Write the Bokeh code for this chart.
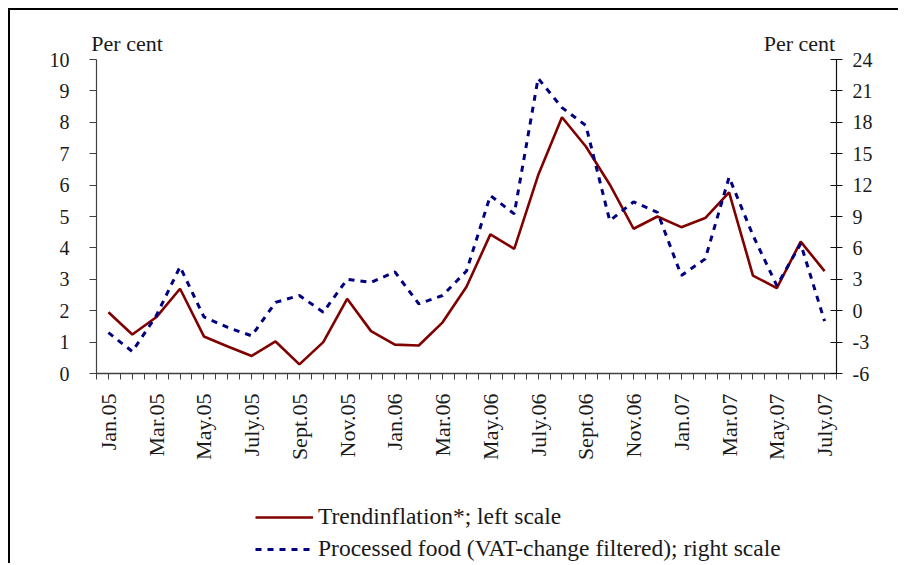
import math
from bokeh.plotting import figure
from bokeh.layouts import column
from bokeh.models import (Range1d, LinearAxis, FixedTicker, Legend, LegendItem)
from bokeh.embed import file_html
from bokeh.resources import INLINE

months = ["Jan.05", "Feb.05", "Mar.05", "Apr.05", "May.05", "June.05", "July.05", "Aug.05",
          "Sept.05", "Oct.05", "Nov.05", "Dec.05",
          "Jan.06", "Feb.06", "Mar.06", "Apr.06", "May.06", "June.06", "July.06", "Aug.06",
          "Sept.06", "Oct.06", "Nov.06", "Dec.06",
          "Jan.07", "Feb.07", "Mar.07", "Apr.07", "May.07", "June.07", "July.07"]

trend_inflation = [1.95, 1.24, 1.79, 2.70, 1.18, 0.86, 0.56, 1.02, 0.29, 1.00, 2.38, 1.35,
                   0.92, 0.89, 1.63, 2.76, 4.43, 3.97, 6.31, 8.16, 7.23, 6.02, 4.61, 5.00,
                   4.66, 4.95, 5.77, 3.12, 2.72, 4.20, 3.26]

processed_food = [-2.1, -3.9, -0.5, 4.2, -0.6, -1.6, -2.4, 0.8, 1.45, -0.14, 3.0, 2.7,
                  3.7, 0.66, 1.45, 3.8, 11.0, 9.25, 22.2, 19.4, 17.7, 8.6, 10.4, 9.4,
                  3.36, 4.95, 12.75, 7.2, 2.4, 6.4, -1.0]

left_ticks = list(range(0, 11))
right_ticks = list(range(-6, 25, 3))
unit_label = "Per cent"
series_labels = ["Trendinflation*; left scale",
                 "Processed food (VAT-change filtered); right scale"]

FONT = "Liberation Serif"
TXT = "#1a1a1a"
AX = "#404040"
RED = "#800000"
BLUE = "#000080"

xs = [i + 0.5 for i in range(len(months))]

p = figure(frame_width=740, frame_height=314, output_backend="svg", toolbar_location=None,
           x_range=Range1d(0, len(months)), y_range=Range1d(0, 10),
           min_border_left=86, min_border_right=62, min_border_top=49, min_border_bottom=100,
           x_axis_type=None, y_axis_type=None)
p.outline_line_color = None
p.grid.visible = False
p.background_fill_color = "white"
p.border_fill_color = "white"

p.extra_y_ranges = {"right": Range1d(-6, 24)}

# top axis carrying the "Per cent" unit captions
top_axis = LinearAxis(ticker=FixedTicker(ticks=[1.28, 29.45]),
                      major_label_overrides={1.28: unit_label, 29.45: unit_label})
top_axis.axis_line_color = None
top_axis.major_tick_line_color = None
top_axis.minor_tick_line_color = None
top_axis.major_label_standoff = -2
top_axis.major_label_text_font = FONT
top_axis.major_label_text_font_size = "22px"
top_axis.major_label_text_color = TXT
p.add_layout(top_axis, "above")

# x axis
xt = [i * 0.5 for i in range(2 * len(months) + 1)]
overrides = {}
for t in xt:
    overrides[t] = ""
for i, m in enumerate(months):
    if i % 2 == 0:
        overrides[i + 0.5] = m
xaxis = LinearAxis(ticker=FixedTicker(ticks=xt), major_label_overrides=overrides)
xaxis.major_label_orientation = math.pi / 2
xaxis.major_tick_out = 6
xaxis.major_tick_in = 0
xaxis.minor_tick_out = 0
xaxis.axis_line_color = AX
xaxis.axis_line_width = 1.5
xaxis.major_tick_line_color = AX
xaxis.major_label_text_font = FONT
xaxis.major_label_text_font_size = "22px"
xaxis.major_label_text_color = TXT
xaxis.major_label_standoff = 14
p.add_layout(xaxis, "below")

# left axis
yl = LinearAxis(ticker=FixedTicker(ticks=left_ticks))
yl.major_tick_out = 7
yl.major_tick_in = 0
yl.minor_tick_out = 0
yl.axis_line_color = AX
yl.axis_line_width = 1.2
yl.major_tick_line_color = AX
yl.major_label_text_font = FONT
yl.major_label_text_font_size = "20px"
yl.major_label_text_color = TXT
yl.major_label_standoff = 20
p.add_layout(yl, "left")

# right axis (plain hyphen for negative numbers, as in the original)
yr = LinearAxis(y_range_name="right", ticker=FixedTicker(ticks=right_ticks),
                major_label_overrides={t: "%d" % t for t in right_ticks if t < 0})
yr.major_tick_out = 6
yr.major_tick_in = 6
yr.minor_tick_out = 0
yr.axis_line_color = "#111111"
yr.axis_line_width = 1.2
yr.major_tick_line_color = "#111111"
yr.major_label_text_font = FONT
yr.major_label_text_font_size = "20px"
yr.major_label_text_color = TXT
yr.major_label_standoff = 10
p.add_layout(yr, "right")

p.line(xs, trend_inflation, line_color=RED, line_width=2.6)
p.line(xs, processed_food, y_range_name="right", line_color=BLUE,
       line_width=3, line_dash="6 6")

# legend strip below the chart
leg = figure(width=888, height=90, output_backend="svg", toolbar_location=None,
             x_range=Range1d(0, len(months)), y_range=Range1d(0, 10),
             min_border=0, x_axis_type=None, y_axis_type=None)
leg.outline_line_color = None
leg.grid.visible = False
leg.background_fill_color = "white"
leg.border_fill_color = "white"
leg.extra_y_ranges = {"right": Range1d(-6, 24)}
k1 = leg.line(xs, trend_inflation, line_color=RED, line_width=2.6, visible=False)
k2 = leg.line(xs, processed_food, y_range_name="right", line_color=BLUE,
              line_width=3, line_dash="6 6", visible=False)

legend = Legend(items=[LegendItem(label=series_labels[0], renderers=[k1]),
                       LegendItem(label=series_labels[1], renderers=[k2])],
                location=(159, 1), orientation="vertical")
legend.border_line_color = None
legend.background_fill_alpha = 0
legend.padding = 0
legend.margin = 0
legend.spacing = 5
legend.glyph_width = 58
legend.glyph_height = 22
legend.label_height = 22
legend.label_standoff = 5
legend.label_text_font = FONT
legend.label_text_font_size = "23.5px"
legend.label_text_color = TXT
leg.add_layout(legend, "center")

layout = column(p, leg, spacing=0)
layout.styles = {"margin-left": "8px", "margin-top": "8px",
                 "border-left": "2px solid #000000", "border-top": "2px solid #000000"}

open("out.html", "w").write(file_html(layout, INLINE))
